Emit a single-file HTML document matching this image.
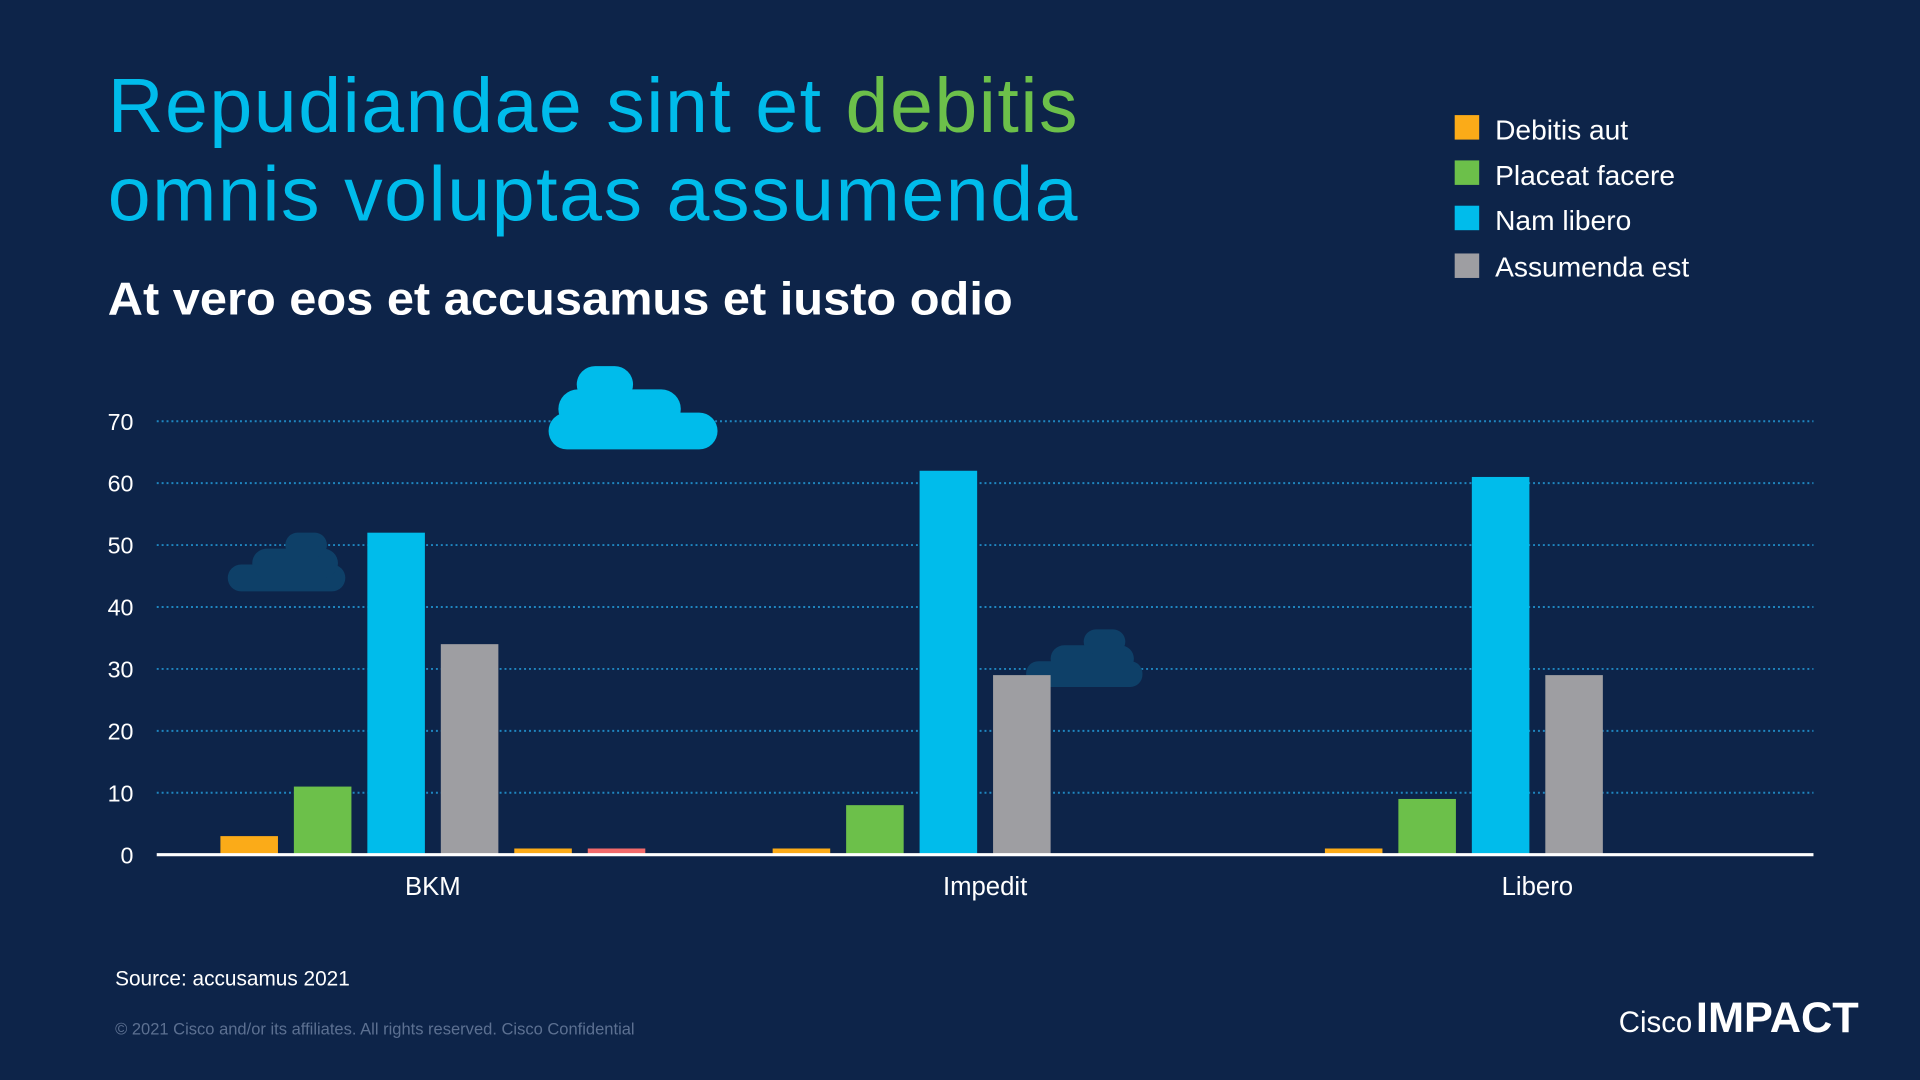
<!DOCTYPE html>
<html><head><meta charset="utf-8"><style>
html,body{margin:0;padding:0;background:#0d2449;}
svg{display:block;font-family:"Liberation Sans",sans-serif;}
</style></head><body>
<svg id="chart" width="1920" height="1080" viewBox="0 0 1568 882" xmlns="http://www.w3.org/2000/svg">
<rect width="1568" height="882" fill="#0d2449"/>
<text x="88" y="108" font-size="63" fill="#00bceb" textLength="792">Repudiandae sint et <tspan fill="#6cc04a">debitis</tspan></text>
<text x="88" y="180" font-size="63" fill="#00bceb" textLength="792">omnis voluptas assumenda</text>
<text x="88" y="257" font-size="38" font-weight="bold" fill="#ffffff" textLength="739" lengthAdjust="spacingAndGlyphs">At vero eos et accusamus et iusto odio</text>
<g>
<rect x="1188" y="94" width="20" height="20" fill="#fbab18"/>
<text x="1221" y="114" font-size="23" fill="#fff">Debitis aut</text>
<rect x="1188" y="131" width="20" height="20" fill="#6cc04a"/>
<text x="1221" y="151" font-size="23" fill="#fff">Placeat facere</text>
<rect x="1188" y="168" width="20" height="20" fill="#00bceb"/>
<text x="1221" y="188" font-size="23" fill="#fff">Nam libero</text>
<rect x="1188" y="207" width="20" height="20" fill="#9e9ea2"/>
<text x="1221" y="226" font-size="23" fill="#fff">Assumenda est</text>
</g>
<g id="grid"></g>
<g fill="#0e4068">
<rect x="186" y="461" width="96" height="22" rx="11"/><rect x="206" y="448" width="70" height="24" rx="12"/><rect x="233" y="435" width="34" height="20" rx="10"/>
</g>
<g fill="#0e4068">
<rect x="838" y="540" width="95" height="21" rx="10"/><rect x="858" y="527" width="68" height="22" rx="11"/><rect x="885" y="514" width="34" height="20" rx="10"/>
</g>
<g id="bars"></g>
<g fill="#00bceb">
<rect x="448" y="337" width="138" height="30" rx="15"/><rect x="456" y="318" width="100" height="32" rx="16"/><rect x="471" y="299" width="46" height="30" rx="15"/>
</g>
<g id="axes"></g>
<text x="94" y="805" font-size="17" fill="#fff">Source: accusamus 2021</text>
<text x="94" y="845" font-size="13.5" fill="#5c7091">© 2021  Cisco and/or its affiliates. All rights reserved. Cisco Confidential</text>
<text x="1322" y="843" font-size="24" fill="#fff">Cisco</text>
<text x="1385" y="843" font-size="35" font-weight="bold" fill="#fff" textLength="133" lengthAdjust="spacingAndGlyphs">IMPACT</text>
</svg>
<script>
const categories = ["BKM", "Impedit", "Libero"];
const debitisAut = [3, 1, 1];
const placeatFacere = [11, 8, 9];
const namLibero = [52, 62, 61];
const assumendaEst = [34, 29, 29];
const extraOrange = [1, 0, 0];
const extraRed = [1, 0, 0];
const yTicks = [0, 10, 20, 30, 40, 50, 60, 70];

const NS = "http://www.w3.org/2000/svg";
const x0 = 128, x1 = 1481, y0 = 698, yTop = 344, yMax = 70;
const yScale = v => y0 - (v / yMax) * (y0 - yTop);
const catW = (x1 - x0) / categories.length;
const catCenter = i => x0 + catW * (i + 0.5);
const slotStep = 60, barW = 47;
const series = [
  {vals: debitisAut, color: "#fbab18", name: "debitis"},
  {vals: placeatFacere, color: "#6cc04a", name: "placeat"},
  {vals: namLibero, color: "#00bceb", name: "nam"},
  {vals: assumendaEst, color: "#9e9ea2", name: "assumenda"},
  {vals: extraOrange, color: "#fbab18", name: "extra-orange"},
  {vals: extraRed, color: "#f26a6a", name: "extra-red"}
];
function mk(tag, attrs, parent) {
  const e = document.createElementNS(NS, tag);
  for (const k in attrs) e.setAttribute(k, attrs[k]);
  parent.appendChild(e);
  return e;
}
const grid = document.getElementById("grid");
const axes = document.getElementById("axes");
const bars = document.getElementById("bars");
yTicks.forEach(t => {
  const y = yScale(t);
  if (t > 0) {
    const l = mk("line", {x1: x0, x2: x1, y1: y, y2: y, stroke: "#1f86c0", "stroke-width": 1.6, "stroke-dasharray": "1.6 2.4"}, grid);
    
    
  }
  const tx = mk("text", {x: 109, y: y + 7, "font-size": 19, fill: "#fff", "text-anchor": "end"}, axes);
  tx.textContent = t;
  
  
});
const base = mk("line", {x1: x0, x2: x1, y1: y0, y2: y0, stroke: "#fff", "stroke-width": 2.5}, axes);


categories.forEach((c, i) => {
  const cx = catCenter(i);
  series.forEach((s, j) => {
    const v = s.vals[i];
    if (v <= 0) return;
    const bx = cx + (j - 2.5) * slotStep - barW / 2;
    const r = mk("rect", {x: bx, y: yScale(v), width: barW, height: y0 - yScale(v), fill: s.color}, bars);
    
    
  });
  const lt = mk("text", {x: cx, y: 731, "font-size": 21, fill: "#fff", "text-anchor": "middle"}, axes);
  lt.textContent = c;
  
  
});
</script>
</body></html>
